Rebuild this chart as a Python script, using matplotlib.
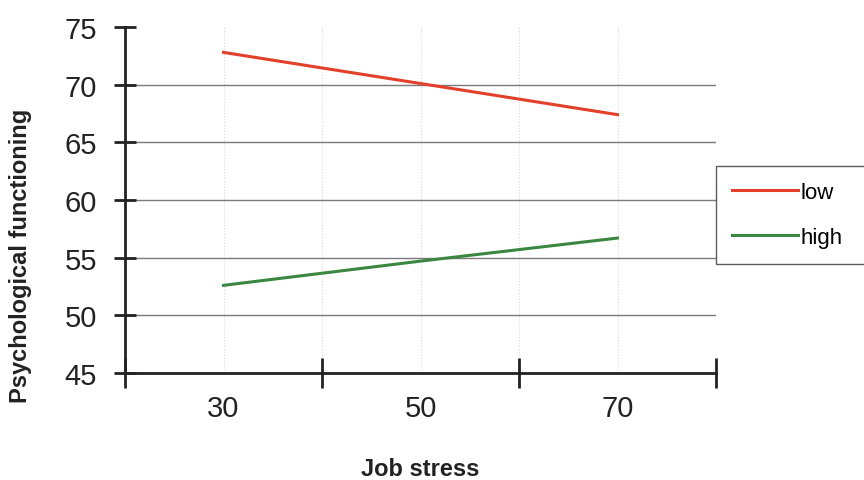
import matplotlib
matplotlib.use('Agg')
import matplotlib.pyplot as plt
import numpy as np

plt.rcParams['font.family'] = ['Liberation Sans', 'DejaVu Sans']

# data
stress = [30, 50, 70]
low = [72.8, 70.1, 67.4]
high = [52.6, 54.7, 56.7]
series_names = ['low', 'high']
x_labels = ['30', '50', '70']
y_ticks = [45, 50, 55, 60, 65, 70, 75]

fig = plt.figure(figsize=(8.64, 4.81), dpi=100)
ax = fig.add_axes([125/864, 1-374/481, (716-125)/864, (374-28)/481])

# faint vertical grid
for xv in [30, 40, 50, 60, 70]:
    ax.axvline(xv, color='#d8d8d8', lw=0.8, ls=':', zorder=0)
# horizontal grid
for yv in y_ticks[1:-1]:
    ax.axhline(yv, color='#7a7a7a', lw=1.0, zorder=1)

ax.plot(stress, low, color='#e2402a', lw=2.2, label=series_names[0], zorder=3)
ax.plot(stress, high, color='#3a8740', lw=2.2, label=series_names[1], zorder=3)

ax.set_xlim(20, 80)
ax.set_ylim(45, 75)
ax.set_yticks(y_ticks)
ax.set_xticks([20, 40, 60, 80])
ax.set_xticklabels([])
ax.set_xticks(stress, minor=True)
ax.set_xticklabels(x_labels, minor=True)
ax.tick_params(axis='x', which='major', direction='inout', length=22, width=2, color='#222222')
ax.tick_params(axis='x', which='minor', length=0, labelsize=21, pad=15, labelcolor='#222222')
ax.tick_params(axis='y', direction='inout', length=16, width=2, labelsize=21, pad=12, color='#222222', labelcolor='#222222')

for s in ['top', 'right']:
    ax.spines[s].set_visible(False)
for s in ['left', 'bottom']:
    ax.spines[s].set_linewidth(2)
    ax.spines[s].set_color('#222222')

ax.set_xlabel('Job stress', fontsize=17, fontweight='bold', color='#222222')
ax.xaxis.set_label_coords(0.5, -(458-374)/346, transform=ax.transAxes)
ax.set_ylabel('Psychological functioning', fontsize=17, fontweight='bold', color='#222222')
ax.yaxis.set_label_coords(-(125-32)/591, (374-256)/346, transform=ax.transAxes)

leg = fig.legend(loc='upper left', bbox_to_anchor=(716/864, 1-267/481, 0.3, 100/481),
                 mode='expand', fontsize=16, frameon=True, fancybox=False, edgecolor='#333333',
                 handlelength=3.0, handletextpad=0.1, labelspacing=1.1,
                 borderpad=0.7, borderaxespad=0)
leg.get_frame().set_linewidth(1)

fig.savefig('out.png', dpi=100)
